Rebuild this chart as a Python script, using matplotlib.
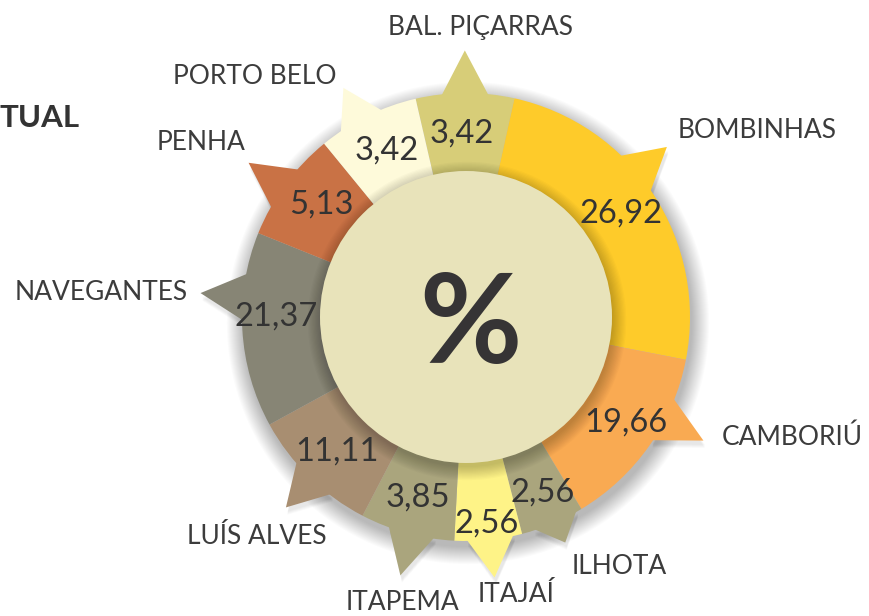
import numpy as np
import matplotlib
matplotlib.use("Agg")
import matplotlib.pyplot as plt
from matplotlib.patches import Circle, Polygon

# ---- data ----
categories = ["BAL. PIÇARRAS", "BOMBINHAS", "CAMBORIÚ", "ILHOTA", "ITAJAÍ",
              "ITAPEMA", "LUÍS ALVES", "NAVEGANTES", "PENHA", "PORTO BELO"]
values = [3.42, 26.92, 19.66, 2.56, 2.56, 3.85, 11.11, 21.37, 5.13, 3.42]
# angular share of each wedge as drawn in the infographic (degrees)
wedge_span = [25.5, 88.5, 48.0, 16.5, 17.5, 24.5, 33.8, 50.7, 28.7, 26.3]
colors = ["#D7CD78", "#FECB2A", "#F9AA52", "#AAA57D", "#FEF387",
          "#AAA57D", "#A88E71", "#878575", "#C97245", "#FEFADA"]

# ---- layout / style ----
W, H = 869, 616
cx, cy = 466, H - 317
R_out, R_in = 224, 146
spike_shift = [0, -7, -7.5, -1, -0.5, -1, -1, 8.5, -1, -2]       # deg clockwise
spike_len = [1.19, 1.175, 1.195, 1.10, 1.17, 1.19, 1.17, 1.19, 1.19, 1.16]
num_r = [186, 188, 190, 190, 206, 185, 185, 190, 185, 186]
num_shift = [-1, -1, -2, -1, 0, 0, 0, 4, 2, 1]
label_pos = [(481, 28), (757, 131), (792, 437), (619, 567), (516, 594),
             (403, 603), (257, 537), (101, 292), (201, 143), (255, 77)]

txt_col = "#3C3C3C"
num_col = "#333333"

fig = plt.figure(figsize=(W / 100, H / 100), dpi=100)
ax = fig.add_axes([0, 0, 1, 1])

wedges, _ = ax.pie(wedge_span, colors=colors, startangle=103, counterclock=False,
                   radius=R_out, center=(cx, cy), frame=True,
                   wedgeprops=dict(linewidth=0))
ax.set_xlim(0, W)
ax.set_ylim(0, H)
ax.set_aspect("equal")
ax.axis("off")


def pt(ang_deg, r):
    a = np.deg2rad(ang_deg)
    return cx + r * np.cos(a), cy + r * np.sin(a)


# spikes geometry
spikes = []
for i, w in enumerate(wedges):
    mid = 0.5 * (w.theta1 + w.theta2) - spike_shift[i]
    p1 = pt(mid + 6.2, R_out - 2)
    p2 = pt(mid - 6.2, R_out - 2)
    tip = pt(mid, R_out * spike_len[i])
    spikes.append((p1, tip, p2))

# soft drop shadow
for k in range(18):
    s = 1 + k * 0.0045
    ax.add_patch(Circle((cx + 2, cy - 6), R_out * s, color="black", alpha=0.014,
                        lw=0, zorder=0.5))
for k in range(8):
    for (p1, tip, p2) in spikes:
        poly = [(x + 1.5, y - 4 - k * 0.5) for (x, y) in (p1, tip, p2)]
        ax.add_patch(Polygon(poly, closed=True, color="black", alpha=0.012,
                             lw=0, zorder=0.5))

for i, (p1, tip, p2) in enumerate(spikes):
    ax.add_patch(Polygon([p1, tip, p2], closed=True, facecolor=colors[i],
                         edgecolor="none", zorder=0.9))
for w in wedges:
    w.set_zorder(1)

# inner disk shadow on the ring
for k in range(12):
    ax.add_patch(Circle((cx + 1, cy - 4), R_in + k * 1.2, color="black",
                        alpha=0.02, lw=0, zorder=1.5))
ax.add_patch(Circle((cx, cy), R_in, color="#E8E3BA", lw=0, zorder=2))

# value labels
for i, w in enumerate(wedges):
    mid = 0.5 * (w.theta1 + w.theta2) - num_shift[i]
    x, y = pt(mid, num_r[i])
    ax.text(x, y - 2, f"{values[i]:.2f}".replace(".", ","), ha="center", va="center",
            fontsize=23.5, color=num_col, family="Lato", zorder=3)

# category labels
for (x, y), name in zip(label_pos, categories):
    ax.text(x, H - y, name, ha="center", va="center", fontsize=19,
            color=txt_col, family="Lato", fontweight="normal", zorder=3)

ax.text(cx + 4, cy - 10, "%", ha="center", va="center", fontsize=90,
        fontweight="bold", color="#363435", family="Lato", zorder=3)

ax.text(80, H - 118, "TUAL", ha="right", va="center", fontsize=22.5,
        fontweight="bold", color="#333333", family="Lato", zorder=3)

fig.savefig("out.png", dpi=100, facecolor="white")
